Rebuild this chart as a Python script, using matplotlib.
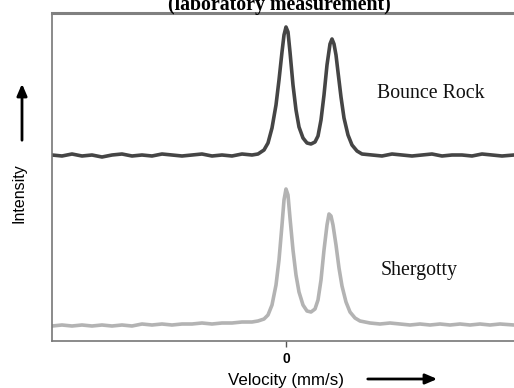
import matplotlib
matplotlib.use("Agg")
import matplotlib.pyplot as plt

# ---- data (velocity in mm/s, intensity in arbitrary units) ----
vel_bounce = [-4.68, -4.48, -4.28, -4.08, -3.88, -3.68, -3.48, -3.28, -3.08, -2.88,
              -2.68, -2.48, -2.28, -2.08, -1.88, -1.68, -1.48, -1.28, -1.08, -0.88,
              -0.68, -0.56, -0.44, -0.36, -0.28, -0.20, -0.14, -0.08, -0.04, 0.00,
              0.04, 0.08, 0.14, 0.20, 0.26, 0.34, 0.42, 0.50, 0.58, 0.64,
              0.70, 0.76, 0.82, 0.88, 0.92, 0.96, 1.00, 1.04, 1.10, 1.16,
              1.24, 1.32, 1.42, 1.52, 1.72, 1.92, 2.12, 2.32, 2.52, 2.72,
              2.92, 3.12, 3.32, 3.52, 3.72, 3.92, 4.12, 4.32, 4.56]
int_bounce = [186, 185, 187, 185, 186, 184, 186, 187, 185, 186,
              185, 187, 186, 185, 186, 187, 185, 186, 185, 187,
              186, 187, 191, 198, 213, 236, 261, 289, 306, 314,
              309, 289, 256, 231, 214, 203, 198, 197, 199, 205,
              221, 246, 276, 297, 302, 297, 286, 269, 244, 223,
              206, 196, 190, 187, 186, 185, 187, 186, 185, 186,
              187, 185, 186, 186, 185, 187, 186, 185, 186]

vel_sherg = [-4.68, -4.48, -4.28, -4.08, -3.88, -3.68, -3.48, -3.28, -3.08, -2.88,
             -2.68, -2.48, -2.28, -2.08, -1.88, -1.68, -1.48, -1.28, -1.08, -0.88,
             -0.68, -0.56, -0.44, -0.36, -0.28, -0.20, -0.14, -0.08, -0.04, 0.00,
             0.04, 0.08, 0.14, 0.20, 0.26, 0.34, 0.42, 0.50, 0.58, 0.64,
             0.70, 0.76, 0.82, 0.86, 0.90, 0.94, 1.00, 1.06, 1.12, 1.20,
             1.28, 1.38, 1.48, 1.68, 1.88, 2.08, 2.28, 2.48, 2.68, 2.88,
             3.08, 3.28, 3.48, 3.68, 3.88, 4.08, 4.28, 4.56]
int_sherg = [15, 16, 15, 16, 15, 16, 15, 16, 15, 17,
             16, 17, 16, 17, 17, 18, 17, 18, 18, 19,
             19, 20, 22, 26, 36, 56, 81, 116, 141, 152,
             146, 123, 91, 66, 49, 36, 30, 29, 32, 41,
             61, 91, 116, 127, 125, 116, 96, 73, 55, 39,
             29, 23, 20, 18, 17, 18, 17, 16, 17, 16,
             17, 16, 17, 16, 17, 16, 17, 16]

x_ticks = [0]
x_ticklabels = ["0"]
labels = ["Bounce Rock", "Shergotty"]
title = "(laboratory measurement)"

SERIF = ["Liberation Serif", "DejaVu Serif"]
SANS = ["Liberation Sans", "DejaVu Sans"]

fig = plt.figure(figsize=(5.14, 3.88), dpi=100)
W, H = 514, 388
ax = fig.add_axes([52 / W, (H - 341) / H, 1 - 52 / W, (341 - 13) / H])

ax.plot(vel_bounce, int_bounce, color="#454545", lw=2.6, solid_joinstyle="round")
ax.plot(vel_sherg, int_sherg, color="#b3b3b3", lw=2.6, solid_joinstyle="round")

ax.set_xlim(-4.68, 4.56)
ax.set_ylim(0, 328)
ax.set_yticks([])
ax.set_xticks(x_ticks)
ax.set_xticklabels(x_ticklabels, fontfamily=SANS, fontsize=10, fontweight="bold")
ax.tick_params(axis="x", direction="out", length=4, width=1, color="#555555", pad=4)

for s in ["left", "bottom"]:
    ax.spines[s].set_color("#777777")
    ax.spines[s].set_linewidth(1.2)
ax.spines["top"].set_color("#808080")
ax.spines["top"].set_linewidth(2.2)
ax.spines["right"].set_visible(False)

# labels on the curves
ax.text(1.82, 243, labels[0], fontfamily=SERIF, fontsize=14.3, color="#111111",
        ha="left", va="baseline")
ax.text(1.90, 66, labels[1], fontfamily=SERIF, fontsize=14.3, color="#111111",
        ha="left", va="baseline")

# title (partly cut at top, as in the original)
fig.text(279 / W, (H - 10) / H, title, fontfamily=SERIF, fontsize=14.3,
         fontweight="bold", ha="center", va="baseline")

# axis labels
fig.text(286 / W, (H - 380) / H, "Velocity (mm/s)", fontfamily=SANS, fontsize=12.2,
         ha="center", va="center")
fig.text(19 / W, (H - 193) / H, "Intensity", fontfamily=SANS, fontsize=11.5,
         ha="center", va="center", rotation=90)

# arrows
fig.add_artist(matplotlib.patches.FancyArrowPatch(
    (365 / W, (H - 379) / H), (440 / W, (H - 379) / H), transform=fig.transFigure,
    arrowstyle="-|>,head_length=7,head_width=3", mutation_scale=1, lw=2, color="black"))
fig.add_artist(matplotlib.patches.FancyArrowPatch(
    (22 / W, (H - 143) / H), (22 / W, (H - 81) / H), transform=fig.transFigure,
    arrowstyle="-|>,head_length=7,head_width=3", mutation_scale=1, lw=2, color="black"))

fig.savefig("out.png", dpi=100)
